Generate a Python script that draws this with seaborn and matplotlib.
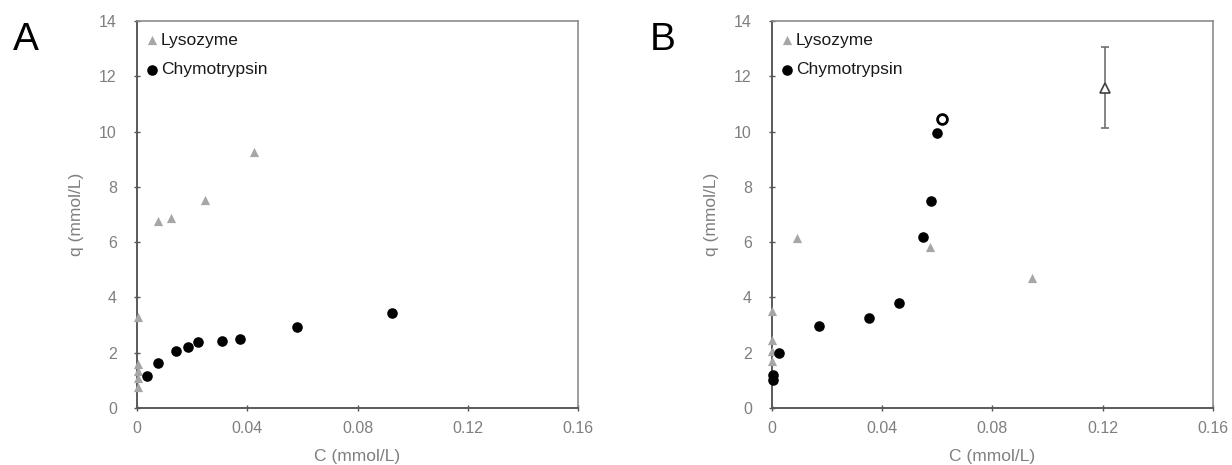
import pandas as pd
import seaborn as sns
import matplotlib.pyplot as plt

# Panel A data
a_lys_c = [0.0003, 0.0003, 0.0003, 0.0003, 0.0003, 0.0076, 0.0123, 0.0247, 0.0425]
a_lys_q = [3.3, 1.6, 1.35, 1.1, 0.75, 6.75, 6.87, 7.52, 9.26]
a_chy_c = [0.0038, 0.0077, 0.0142, 0.0184, 0.022, 0.0307, 0.0374, 0.0582, 0.0924]
a_chy_q = [1.14, 1.64, 2.06, 2.22, 2.40, 2.44, 2.50, 2.94, 3.45]

# Panel B data
b_lys_c = [0.0, 0.0, 0.0, 0.0, 0.009, 0.0573, 0.0943]
b_lys_q = [3.5, 2.45, 2.05, 1.7, 6.15, 5.82, 4.70]
b_lys_open_c = [0.1208]
b_lys_open_q = [11.58]
b_lys_open_err_lo = [1.43]
b_lys_open_err_hi = [1.47]
b_chy_c = [0.0002, 0.0002, 0.0027, 0.0172, 0.0353, 0.0462, 0.0549, 0.0577, 0.0598]
b_chy_q = [1.19, 1.01, 2.0, 2.98, 3.24, 3.79, 6.20, 7.50, 9.94]
b_chy_open_c = [0.0618]
b_chy_open_q = [10.46]

x_ticks = [0, 0.04, 0.08, 0.12, 0.16]
x_ticklabels = ['0', '0.04', '0.08', '0.12', '0.16']
y_ticks = [0, 2, 4, 6, 8, 10, 12, 14]

sns.set_theme(style="white")
plt.rcParams['font.family'] = ['Liberation Sans', 'DejaVu Sans']

lys_color = '#a6a6a6'
spine_color = '#8c8c8c'
text_gray = '#7f7f7f'

fig = plt.figure(figsize=(12.32, 4.65), dpi=100)
ax_a = fig.add_axes([0.1112, 0.1226, 0.358, 0.832])
ax_b = fig.add_axes([0.6266, 0.1226, 0.358, 0.832])


def draw_panel(ax, lys_c, lys_q, chy_c, chy_q):
    lys = pd.DataFrame({'C': lys_c, 'q': lys_q})
    chy = pd.DataFrame({'C': chy_c, 'q': chy_q})
    sns.scatterplot(data=lys, x='C', y='q', ax=ax, marker='^', s=44,
                    color=lys_color, edgecolor=lys_color, linewidth=0,
                    label='Lysozyme', clip_on=False, zorder=3)
    sns.scatterplot(data=chy, x='C', y='q', ax=ax, marker='o', s=58,
                    color='black', edgecolor='black', linewidth=0,
                    label='Chymotrypsin', clip_on=False, zorder=4)


def style_axes(ax):
    ax.set_xlim(0, 0.16)
    ax.set_ylim(0, 14)
    ax.set_xticks(x_ticks)
    ax.set_xticklabels(x_ticklabels)
    ax.set_yticks(y_ticks)
    ax.tick_params(axis='both', which='both', direction='inout', length=5,
                   width=1, color='#555555', labelcolor=text_gray,
                   labelsize=11.5, left=True, bottom=True)
    ax.tick_params(axis='x', pad=7)
    ax.tick_params(axis='y', pad=12)
    for side in ['left', 'bottom']:
        ax.spines[side].set_color('#5a5a5a')
        ax.spines[side].set_linewidth(1.4)
    for side in ['top', 'right']:
        ax.spines[side].set_color(spine_color)
        ax.spines[side].set_linewidth(1.2)
    ax.set_xlabel('C (mmol/L)', color=text_gray, fontsize=12.5, labelpad=9)
    ax.set_ylabel('q (mmol/L)', color=text_gray, fontsize=12.5, labelpad=11)
    leg = ax.legend(loc='upper left', bbox_to_anchor=(-0.009, 1.0),
                    frameon=False, fontsize=12.5,
                    handletextpad=0.05, borderaxespad=0.35, labelspacing=0.85,
                    handlelength=0.9, borderpad=0.3)
    for t in leg.get_texts():
        t.set_color('#1a1a1a')


draw_panel(ax_a, a_lys_c, a_lys_q, a_chy_c, a_chy_q)
style_axes(ax_a)

draw_panel(ax_b, b_lys_c, b_lys_q, b_chy_c, b_chy_q)
ax_b.errorbar(b_lys_open_c, b_lys_open_q,
              yerr=[b_lys_open_err_lo, b_lys_open_err_hi],
              fmt='^', ms=7, mfc='white', mec='#404040', mew=1.2,
              ecolor='#707070', elinewidth=1.2, capsize=3, capthick=1,
              zorder=5)
ax_b.scatter(b_chy_open_c, b_chy_open_q, marker='o', s=50,
             facecolor='white', edgecolor='black', linewidth=2, zorder=5)
style_axes(ax_b)

fig.text(0.0105, 0.915, 'A', fontsize=28, color='black', ha='left', va='center')
fig.text(0.527, 0.915, 'B', fontsize=28, color='black', ha='left', va='center')

fig.savefig('out.png', dpi=100)
